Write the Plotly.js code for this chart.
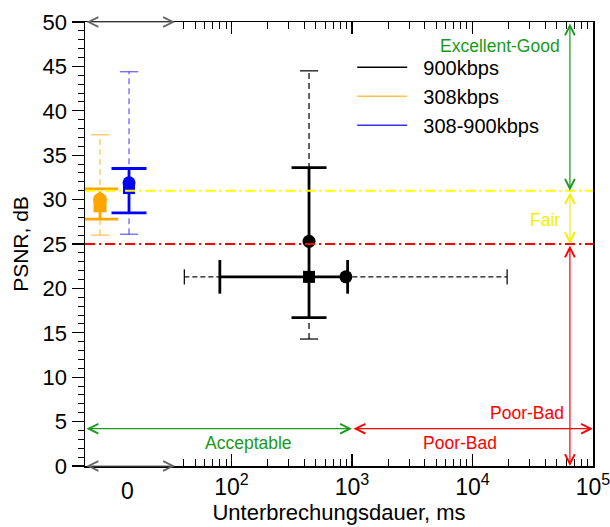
<!DOCTYPE html>
<html><head><meta charset="utf-8">
<script src="https://cdn.plot.ly/plotly-3.0.1.min.js"></script>
<style>html,body{margin:0;padding:0;background:#fff}#chart{width:610px;height:527px}</style>
</head><body><div id="chart"></div>
<script>
// ---------------- data ----------------
const seriesNames = ['900kbps', '308kbps', '308-900kbps'];

// 900kbps (black)
const k900SquareX = [440];
const k900SquareY = [21.3];
const k900CircleX = [440, 890];
const k900CircleY = [25.3, 21.3];
const k900StdY = [16.7, 33.6];     // solid vertical bar at x = 440
const k900RangeY = [14.3, 44.5];   // dashed vertical bar at x = 440
const k900StdX = [80, 920];        // solid horizontal bar at y = 21.3
const k900RangeX = [40.6, 19400];  // dashed horizontal bar at y = 21.3

// 308kbps (orange), drawn in the "0" column
const r308X = [8.1];
const r308SquareY = [29.3];
const r308CircleY = [30.0];
const r308StdY = [27.8, 31.2];
const r308RangeY = [26.0, 37.3];

// 308-900kbps (blue), drawn in the "0" column
const mixX = [14.1];
const mixSquareY = [31.3];
const mixCircleY = [31.9];
const mixStdY = [28.5, 33.5];
const mixRangeY = [26.1, 44.4];

// quality thresholds
const psnrLevels = [25, 31];        // red (Poor-Bad / Fair), yellow (Fair / Excellent-Good)
const delayLimit = 1000;            // ms, acceptable limit
const zeroBoundary = 34;            // ms, end of the "0" column
const xMin = 6.08, xMax = 100000;
const qualityArrowX = 64400;
const arrowY = 4.2;

// axis ticks
const xTickVals = [100, 1000, 10000, 100000];
const xTickText = ['10<sup>2</sup>', '10<sup>3</sup>', '10<sup>4</sup>', '10<sup>5</sup>'];
const xMinorVals = [40, 50, 60, 70, 80, 90, 200, 300, 400, 500, 600, 700, 800, 900,
  2000, 3000, 4000, 5000, 6000, 7000, 8000, 9000,
  20000, 30000, 40000, 50000, 60000, 70000, 80000, 90000];
const zeroLabelX = 13.8;

// ---------------- drawing ----------------
const L = Math.log10;
const FONT = 'Liberation Sans, Arial, Helvetica, sans-serif';
const BLACK = '#000000', ORANGE = '#FFA500', BLUE = '#0000FF';

function vDashed(x, yr, color) {
  return {x: [x, x], y: yr, mode: 'lines+markers', showlegend: false, hoverinfo: 'skip',
    line: {color: color, width: 1.3, dash: '6px,4px'},
    marker: {symbol: 'line-ew', size: 13, line: {color: color, width: 1.3}}};
}
function hDashed(xr, y, color) {
  return {x: xr, y: [y, y], mode: 'lines+markers', showlegend: false, hoverinfo: 'skip',
    line: {color: color, width: 1.3, dash: '5px,3px'},
    marker: {symbol: 'line-ns', size: 11, line: {color: color, width: 1.3}}};
}
function vSolid(x, yr, color, cap) {
  return {x: [x, x], y: yr, mode: 'lines+markers', showlegend: false, hoverinfo: 'skip',
    line: {color: color, width: 2.8},
    marker: {symbol: 'line-ew', size: cap, line: {color: color, width: 2.8}}};
}
function hSolid(xr, y, color, cap) {
  return {x: xr, y: [y, y], mode: 'lines+markers', showlegend: false, hoverinfo: 'skip',
    line: {color: color, width: 2.8},
    marker: {symbol: 'line-ns', size: cap, line: {color: color, width: 2.8}}};
}
function pts(xs, ys, color, symbol, size) {
  return {x: xs, y: ys, mode: 'markers', showlegend: false, hoverinfo: 'skip',
    marker: {symbol: symbol, size: size, color: color, line: {width: 0}}};
}

const NB = '\u00A0\u00A0';
const traces = [
  // dashed ranges
  vDashed(r308X[0], r308RangeY, 'rgba(255,165,0,0.65)'),
  vDashed(mixX[0], mixRangeY, 'rgba(40,40,255,0.7)'),
  vDashed(k900SquareX[0], k900RangeY, '#111111'),
  hDashed(k900RangeX, k900SquareY[0], '#111111'),
  // solid bars
  vSolid(r308X[0], r308StdY, ORANGE, 26),
  vSolid(mixX[0], mixStdY, BLUE, 25),
  vSolid(k900SquareX[0], k900StdY, BLACK, 25),
  hSolid(k900StdX, k900SquareY[0], BLACK, 24),
  // markers
  pts(r308X, r308SquareY, ORANGE, 'square', 13),
  pts(r308X, r308CircleY, ORANGE, 'circle', 14),
  pts(mixX, mixSquareY, BLUE, 'square', 12),
  pts(mixX, mixCircleY, BLUE, 'circle', 13),
  pts(k900SquareX, k900SquareY, BLACK, 'square', 12),
  pts(k900CircleX, k900CircleY, BLACK, 'circle', 13),
  // legend entries
  {x: [null], y: [null], mode: 'lines', name: NB + seriesNames[0], line: {color: '#000000', width: 1.5}},
  {x: [null], y: [null], mode: 'lines', name: NB + seriesNames[1], line: {color: '#FFC050', width: 1.5}},
  {x: [null], y: [null], mode: 'lines', name: NB + seriesNames[2], line: {color: '#3333EE', width: 1.5}}
];

const dashdot = '10px,4px,2px,4px';
const shapes = [
  {type: 'line', xref: 'paper', x0: 0, x1: 1, yref: 'y', y0: psnrLevels[1], y1: psnrLevels[1],
    line: {color: '#FFFF00', width: 2, dash: dashdot}},
  {type: 'line', xref: 'paper', x0: 0, x1: 1, yref: 'y', y0: psnrLevels[0], y1: psnrLevels[0],
    line: {color: '#FF0000', width: 2, dash: dashdot}},
  {type: 'line', xref: 'x', x0: L(delayLimit), x1: L(delayLimit), yref: 'y', y0: 0, y1: 50,
    line: {color: '#FF0000', width: 2, dash: dashdot}},
  {type: 'line', xref: 'x', x0: L(zeroBoundary), x1: L(zeroBoundary), yref: 'y', y0: 0, y1: 50,
    line: {color: '#666666', width: 1, dash: 'dot'}}
];

function arrow(x0, y0, x1, y1, color) {
  return {x: x1, y: y1, ax: x0, ay: y0, xref: 'x', yref: 'y', axref: 'x', ayref: 'y',
    text: '', showarrow: true, arrowside: 'end+start', arrowhead: 5, startarrowhead: 5,
    arrowsize: 1.6, startarrowsize: 1.6, arrowwidth: 1.2, arrowcolor: color, standoff: 0, startstandoff: 0};
}
function label(x, y, text, color, xanchor) {
  return {x: x, y: y, xref: 'x', yref: 'y', text: text, showarrow: false, xanchor: xanchor, yanchor: 'middle',
    font: {family: FONT, size: 17.5, color: color}};
}
const GREEN = '#1a9a1a', RED = '#FF0000', YEL = '#F2F000', GRAY = '#666666';
const annotations = [
  arrow(L(xMin), 50, L(zeroBoundary), 50, GRAY),
  arrow(L(xMin), 0, L(zeroBoundary), 0, GRAY),
  arrow(L(xMin), arrowY, L(delayLimit), arrowY, GREEN),
  arrow(L(delayLimit), arrowY, L(xMax), arrowY, RED),
  arrow(L(qualityArrowX), 50, L(qualityArrowX), psnrLevels[1], GREEN),
  arrow(L(qualityArrowX), psnrLevels[1], L(qualityArrowX), psnrLevels[0], YEL),
  arrow(L(qualityArrowX), psnrLevels[0], L(qualityArrowX), 0, RED),
  label(L(qualityArrowX) - 0.065, 47.3, 'Excellent-Good', GREEN, 'right'),
  label(L(qualityArrowX) - 0.065, 27.7, 'Fair', YEL, 'right'),
  label(L(qualityArrowX) - 0.03, 6.0, 'Poor-Bad', RED, 'right'),
  label(2.137, 2.6, 'Acceptable', GREEN, 'center'),
  label(3.896, 2.6, 'Poor-Bad', RED, 'center'),
  {x: L(zeroLabelX), y: 0, xref: 'x', yref: 'paper', text: '0', showarrow: false,
    xanchor: 'center', yanchor: 'top', yshift: -10, font: {family: FONT, size: 23, color: '#000'}}
];

const layout = {
  width: 610, height: 527,
  margin: {l: 85, r: 17, t: 22, b: 61},
  paper_bgcolor: '#ffffff', plot_bgcolor: '#ffffff',
  font: {family: FONT, color: '#000'},
  showlegend: true,
  legend: {x: 0.526, y: 0.942, xanchor: 'left', yanchor: 'top', bgcolor: 'rgba(0,0,0,0)',
    font: {family: FONT, size: 20, color: '#000'}, itemwidth: 50, tracegroupgap: 0},
  xaxis: {
    type: 'log', range: [L(xMin), L(xMax) + 0.0005],
    tickmode: 'array', tickvals: xTickVals, ticktext: xTickText,
    ticks: 'inside', ticklen: 12, tickwidth: 1.2, tickcolor: '#000',
    ticklabeloverflow: 'allow',
    minor: {tickmode: 'array', tickvals: xMinorVals, ticks: 'inside', ticklen: 7, tickwidth: 1, tickcolor: '#000'},
    showline: true, linecolor: '#000', linewidth: 1.5, mirror: 'ticks',
    showgrid: false, zeroline: false,
    tickfont: {family: FONT, size: 23, color: '#000'},
    title: {text: 'Unterbrechungsdauer, ms', font: {family: FONT, size: 22, color: '#000'}, standoff: 4}
  },
  yaxis: {
    range: [0, 50], tickmode: 'linear', tick0: 0, dtick: 5,
    ticks: 'outside', ticklen: 12, tickwidth: 1.2, tickcolor: '#000',
    minor: {dtick: 1, ticks: 'outside', ticklen: 6, tickwidth: 1, tickcolor: '#000'},
    showline: true, linecolor: '#000', linewidth: 1.5, mirror: true,
    showgrid: false, zeroline: false,
    tickfont: {family: FONT, size: 22, color: '#000'},
    title: {text: 'PSNR, dB', font: {family: FONT, size: 21, color: '#000'}, standoff: 8}
  },
  shapes: shapes,
  annotations: annotations
};

Plotly.newPlot('chart', traces, layout, {displayModeBar: false, staticPlot: true});
</script></body></html>
